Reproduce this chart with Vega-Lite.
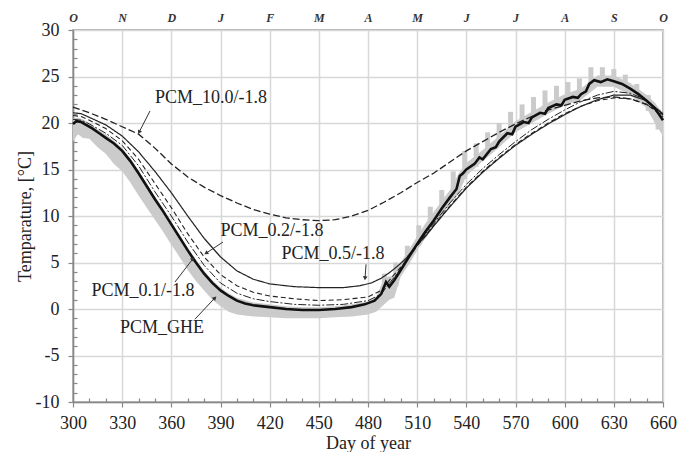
{
  "$schema": "https://vega.github.io/schema/vega-lite/v6.json",
  "width": 590,
  "height": 372,
  "autosize": {"type": "none"},
  "padding": {"left": 73, "top": 30, "right": 15, "bottom": 50},
  "background": "white",
  "config": {
    "view": {"stroke": "#999", "strokeWidth": 1.5},
    "font": "Liberation Serif"
  },
  "datasets": {
    "band": [
      {"day": 300, "lo": 18.0, "hi": 20.5}, {"day": 303, "lo": 18.8, "hi": 20.6}, {"day": 306, "lo": 18.4, "hi": 20.4},
      {"day": 310, "lo": 18.3, "hi": 20.0}, {"day": 315, "lo": 17.4, "hi": 19.3}, {"day": 320, "lo": 16.7, "hi": 18.8},
      {"day": 325, "lo": 15.6, "hi": 18.1}, {"day": 330, "lo": 14.8, "hi": 17.3}, {"day": 335, "lo": 13.6, "hi": 16.2},
      {"day": 340, "lo": 12.2, "hi": 14.9}, {"day": 345, "lo": 10.9, "hi": 13.5}, {"day": 350, "lo": 9.6, "hi": 12.1},
      {"day": 355, "lo": 8.3, "hi": 10.8}, {"day": 360, "lo": 6.9, "hi": 9.4}, {"day": 365, "lo": 5.6, "hi": 8.0},
      {"day": 370, "lo": 4.2, "hi": 6.6}, {"day": 375, "lo": 3.0, "hi": 5.3}, {"day": 380, "lo": 2.0, "hi": 4.1},
      {"day": 385, "lo": 1.0, "hi": 3.1}, {"day": 390, "lo": 0.3, "hi": 2.3}, {"day": 395, "lo": -0.3, "hi": 1.7},
      {"day": 400, "lo": -0.6, "hi": 1.2}, {"day": 410, "lo": -0.8, "hi": 0.7}, {"day": 420, "lo": -0.9, "hi": 0.5},
      {"day": 430, "lo": -1.0, "hi": 0.3}, {"day": 440, "lo": -1.0, "hi": 0.2}, {"day": 450, "lo": -1.0, "hi": 0.2},
      {"day": 460, "lo": -0.9, "hi": 0.3}, {"day": 470, "lo": -0.8, "hi": 0.5}, {"day": 480, "lo": -0.6, "hi": 0.8},
      {"day": 485, "lo": -0.3, "hi": 1.3}, {"day": 490, "lo": 0.5, "hi": 3.4}, {"day": 493, "lo": 1.0, "hi": 3.5},
      {"day": 496, "lo": 1.2, "hi": 3.6}, {"day": 500, "lo": 3.5, "hi": 5.0}, {"day": 505, "lo": 4.8, "hi": 6.4},
      {"day": 510, "lo": 6.3, "hi": 7.8}, {"day": 515, "lo": 7.6, "hi": 9.2}, {"day": 520, "lo": 8.8, "hi": 10.4},
      {"day": 525, "lo": 10.1, "hi": 11.6}, {"day": 530, "lo": 11.3, "hi": 12.8}, {"day": 535, "lo": 12.3, "hi": 14.5},
      {"day": 540, "lo": 14.3, "hi": 15.7}, {"day": 550, "lo": 15.9, "hi": 17.1}, {"day": 560, "lo": 17.4, "hi": 18.6},
      {"day": 570, "lo": 19.0, "hi": 20.2}, {"day": 580, "lo": 20.0, "hi": 21.2}, {"day": 590, "lo": 21.0, "hi": 22.2},
      {"day": 600, "lo": 21.9, "hi": 23.1}, {"day": 610, "lo": 22.5, "hi": 23.7}, {"day": 620, "lo": 23.9, "hi": 25.1},
      {"day": 630, "lo": 23.9, "hi": 25.1}, {"day": 640, "lo": 23.0, "hi": 24.3}, {"day": 650, "lo": 21.6, "hi": 23.0},
      {"day": 655, "lo": 20.0, "hi": 22.2}, {"day": 660, "lo": 18.6, "hi": 21.0}
    ],
    "spikes": [
      {"day": 490, "lo": 1.0, "hi": 3.8}, {"day": 497, "lo": 2.5, "hi": 5.0}, {"day": 504, "lo": 4.8, "hi": 6.8},
      {"day": 511, "lo": 6.8, "hi": 9.0}, {"day": 518, "lo": 8.6, "hi": 11.0}, {"day": 525, "lo": 10.3, "hi": 12.8},
      {"day": 532, "lo": 12.0, "hi": 14.8}, {"day": 539, "lo": 14.0, "hi": 17.0}, {"day": 546, "lo": 15.3, "hi": 17.8},
      {"day": 553, "lo": 16.6, "hi": 19.0}, {"day": 560, "lo": 17.6, "hi": 20.0}, {"day": 567, "lo": 18.8, "hi": 21.2},
      {"day": 574, "lo": 19.6, "hi": 22.0}, {"day": 581, "lo": 20.3, "hi": 22.8}, {"day": 588, "lo": 21.0, "hi": 23.5},
      {"day": 595, "lo": 21.6, "hi": 24.0}, {"day": 602, "lo": 22.2, "hi": 24.4}, {"day": 609, "lo": 22.7, "hi": 24.8},
      {"day": 616, "lo": 23.6, "hi": 26.0}, {"day": 623, "lo": 24.0, "hi": 26.0}, {"day": 630, "lo": 24.0, "hi": 25.8},
      {"day": 637, "lo": 23.5, "hi": 25.2}, {"day": 644, "lo": 22.6, "hi": 24.2}, {"day": 651, "lo": 21.3, "hi": 23.0},
      {"day": 657, "lo": 19.3, "hi": 21.5}
    ],
    "lines": [
      {"series": "PCM_10.0/-1.8", "day": 300, "t": 21.7}, {"series": "PCM_10.0/-1.8", "day": 310, "t": 21.1},
      {"series": "PCM_10.0/-1.8", "day": 320, "t": 20.4}, {"series": "PCM_10.0/-1.8", "day": 330, "t": 19.6},
      {"series": "PCM_10.0/-1.8", "day": 340, "t": 18.8}, {"series": "PCM_10.0/-1.8", "day": 350, "t": 17.3},
      {"series": "PCM_10.0/-1.8", "day": 360, "t": 15.6}, {"series": "PCM_10.0/-1.8", "day": 370, "t": 14.2},
      {"series": "PCM_10.0/-1.8", "day": 380, "t": 13.1}, {"series": "PCM_10.0/-1.8", "day": 390, "t": 12.2},
      {"series": "PCM_10.0/-1.8", "day": 400, "t": 11.4}, {"series": "PCM_10.0/-1.8", "day": 410, "t": 10.7},
      {"series": "PCM_10.0/-1.8", "day": 420, "t": 10.2}, {"series": "PCM_10.0/-1.8", "day": 430, "t": 9.8},
      {"series": "PCM_10.0/-1.8", "day": 440, "t": 9.6}, {"series": "PCM_10.0/-1.8", "day": 450, "t": 9.5},
      {"series": "PCM_10.0/-1.8", "day": 460, "t": 9.6}, {"series": "PCM_10.0/-1.8", "day": 470, "t": 10.0},
      {"series": "PCM_10.0/-1.8", "day": 480, "t": 10.6}, {"series": "PCM_10.0/-1.8", "day": 490, "t": 11.5},
      {"series": "PCM_10.0/-1.8", "day": 500, "t": 12.5}, {"series": "PCM_10.0/-1.8", "day": 510, "t": 13.6},
      {"series": "PCM_10.0/-1.8", "day": 520, "t": 14.6}, {"series": "PCM_10.0/-1.8", "day": 530, "t": 15.8},
      {"series": "PCM_10.0/-1.8", "day": 540, "t": 17.0}, {"series": "PCM_10.0/-1.8", "day": 550, "t": 18.0},
      {"series": "PCM_10.0/-1.8", "day": 560, "t": 19.0}, {"series": "PCM_10.0/-1.8", "day": 570, "t": 19.9},
      {"series": "PCM_10.0/-1.8", "day": 580, "t": 20.7}, {"series": "PCM_10.0/-1.8", "day": 590, "t": 21.4},
      {"series": "PCM_10.0/-1.8", "day": 600, "t": 21.9}, {"series": "PCM_10.0/-1.8", "day": 610, "t": 22.4},
      {"series": "PCM_10.0/-1.8", "day": 620, "t": 22.7}, {"series": "PCM_10.0/-1.8", "day": 630, "t": 22.8},
      {"series": "PCM_10.0/-1.8", "day": 640, "t": 22.6}, {"series": "PCM_10.0/-1.8", "day": 650, "t": 22.0},
      {"series": "PCM_10.0/-1.8", "day": 660, "t": 20.9},

      {"series": "PCM_0.5/-1.8", "day": 300, "t": 21.1}, {"series": "PCM_0.5/-1.8", "day": 305, "t": 21.0},
      {"series": "PCM_0.5/-1.8", "day": 310, "t": 20.6}, {"series": "PCM_0.5/-1.8", "day": 320, "t": 19.8},
      {"series": "PCM_0.5/-1.8", "day": 330, "t": 18.6}, {"series": "PCM_0.5/-1.8", "day": 340, "t": 16.9},
      {"series": "PCM_0.5/-1.8", "day": 350, "t": 14.8}, {"series": "PCM_0.5/-1.8", "day": 360, "t": 12.5},
      {"series": "PCM_0.5/-1.8", "day": 370, "t": 10.0}, {"series": "PCM_0.5/-1.8", "day": 380, "t": 7.6},
      {"series": "PCM_0.5/-1.8", "day": 390, "t": 5.6}, {"series": "PCM_0.5/-1.8", "day": 400, "t": 4.1},
      {"series": "PCM_0.5/-1.8", "day": 410, "t": 3.2}, {"series": "PCM_0.5/-1.8", "day": 420, "t": 2.7},
      {"series": "PCM_0.5/-1.8", "day": 435, "t": 2.4}, {"series": "PCM_0.5/-1.8", "day": 450, "t": 2.3},
      {"series": "PCM_0.5/-1.8", "day": 465, "t": 2.3}, {"series": "PCM_0.5/-1.8", "day": 475, "t": 2.5},
      {"series": "PCM_0.5/-1.8", "day": 482, "t": 2.8}, {"series": "PCM_0.5/-1.8", "day": 488, "t": 3.3},
      {"series": "PCM_0.5/-1.8", "day": 493, "t": 3.9}, {"series": "PCM_0.5/-1.8", "day": 498, "t": 4.6},
      {"series": "PCM_0.5/-1.8", "day": 503, "t": 5.4}, {"series": "PCM_0.5/-1.8", "day": 508, "t": 6.5},
      {"series": "PCM_0.5/-1.8", "day": 515, "t": 7.8}, {"series": "PCM_0.5/-1.8", "day": 520, "t": 8.9},
      {"series": "PCM_0.5/-1.8", "day": 530, "t": 11.0}, {"series": "PCM_0.5/-1.8", "day": 540, "t": 13.0},
      {"series": "PCM_0.5/-1.8", "day": 550, "t": 14.7}, {"series": "PCM_0.5/-1.8", "day": 560, "t": 16.2},
      {"series": "PCM_0.5/-1.8", "day": 570, "t": 17.6}, {"series": "PCM_0.5/-1.8", "day": 580, "t": 18.8},
      {"series": "PCM_0.5/-1.8", "day": 590, "t": 19.9}, {"series": "PCM_0.5/-1.8", "day": 600, "t": 20.9},
      {"series": "PCM_0.5/-1.8", "day": 610, "t": 21.8}, {"series": "PCM_0.5/-1.8", "day": 620, "t": 22.5},
      {"series": "PCM_0.5/-1.8", "day": 630, "t": 23.0}, {"series": "PCM_0.5/-1.8", "day": 640, "t": 23.0},
      {"series": "PCM_0.5/-1.8", "day": 650, "t": 22.4}, {"series": "PCM_0.5/-1.8", "day": 660, "t": 21.0},

      {"series": "PCM_0.2/-1.8", "day": 300, "t": 20.8}, {"series": "PCM_0.2/-1.8", "day": 305, "t": 20.7},
      {"series": "PCM_0.2/-1.8", "day": 310, "t": 20.3}, {"series": "PCM_0.2/-1.8", "day": 320, "t": 19.4},
      {"series": "PCM_0.2/-1.8", "day": 330, "t": 18.1}, {"series": "PCM_0.2/-1.8", "day": 340, "t": 16.1},
      {"series": "PCM_0.2/-1.8", "day": 350, "t": 13.5}, {"series": "PCM_0.2/-1.8", "day": 360, "t": 10.9},
      {"series": "PCM_0.2/-1.8", "day": 370, "t": 8.1}, {"series": "PCM_0.2/-1.8", "day": 380, "t": 5.6},
      {"series": "PCM_0.2/-1.8", "day": 390, "t": 3.7}, {"series": "PCM_0.2/-1.8", "day": 400, "t": 2.5},
      {"series": "PCM_0.2/-1.8", "day": 410, "t": 1.8}, {"series": "PCM_0.2/-1.8", "day": 420, "t": 1.4},
      {"series": "PCM_0.2/-1.8", "day": 435, "t": 1.1}, {"series": "PCM_0.2/-1.8", "day": 450, "t": 0.9},
      {"series": "PCM_0.2/-1.8", "day": 465, "t": 1.0}, {"series": "PCM_0.2/-1.8", "day": 480, "t": 1.3},
      {"series": "PCM_0.2/-1.8", "day": 488, "t": 2.0}, {"series": "PCM_0.2/-1.8", "day": 495, "t": 3.5},
      {"series": "PCM_0.2/-1.8", "day": 500, "t": 4.5}, {"series": "PCM_0.2/-1.8", "day": 505, "t": 5.6},
      {"series": "PCM_0.2/-1.8", "day": 510, "t": 6.8}, {"series": "PCM_0.2/-1.8", "day": 520, "t": 9.0},
      {"series": "PCM_0.2/-1.8", "day": 530, "t": 11.1}, {"series": "PCM_0.2/-1.8", "day": 540, "t": 13.1},
      {"series": "PCM_0.2/-1.8", "day": 550, "t": 14.8}, {"series": "PCM_0.2/-1.8", "day": 560, "t": 16.3},
      {"series": "PCM_0.2/-1.8", "day": 570, "t": 17.7}, {"series": "PCM_0.2/-1.8", "day": 580, "t": 18.9},
      {"series": "PCM_0.2/-1.8", "day": 590, "t": 20.0}, {"series": "PCM_0.2/-1.8", "day": 600, "t": 21.0},
      {"series": "PCM_0.2/-1.8", "day": 610, "t": 21.8}, {"series": "PCM_0.2/-1.8", "day": 620, "t": 22.4},
      {"series": "PCM_0.2/-1.8", "day": 630, "t": 22.7}, {"series": "PCM_0.2/-1.8", "day": 640, "t": 22.6},
      {"series": "PCM_0.2/-1.8", "day": 650, "t": 22.0}, {"series": "PCM_0.2/-1.8", "day": 660, "t": 20.7},

      {"series": "PCM_0.1/-1.8", "day": 300, "t": 20.4}, {"series": "PCM_0.1/-1.8", "day": 305, "t": 20.3},
      {"series": "PCM_0.1/-1.8", "day": 310, "t": 19.9}, {"series": "PCM_0.1/-1.8", "day": 320, "t": 18.9},
      {"series": "PCM_0.1/-1.8", "day": 330, "t": 17.6}, {"series": "PCM_0.1/-1.8", "day": 340, "t": 15.4},
      {"series": "PCM_0.1/-1.8", "day": 350, "t": 12.6}, {"series": "PCM_0.1/-1.8", "day": 360, "t": 10.0},
      {"series": "PCM_0.1/-1.8", "day": 370, "t": 7.2}, {"series": "PCM_0.1/-1.8", "day": 380, "t": 4.7},
      {"series": "PCM_0.1/-1.8", "day": 390, "t": 2.8}, {"series": "PCM_0.1/-1.8", "day": 400, "t": 1.7},
      {"series": "PCM_0.1/-1.8", "day": 410, "t": 1.1}, {"series": "PCM_0.1/-1.8", "day": 420, "t": 0.8},
      {"series": "PCM_0.1/-1.8", "day": 435, "t": 0.5}, {"series": "PCM_0.1/-1.8", "day": 450, "t": 0.4},
      {"series": "PCM_0.1/-1.8", "day": 465, "t": 0.5}, {"series": "PCM_0.1/-1.8", "day": 480, "t": 0.9},
      {"series": "PCM_0.1/-1.8", "day": 488, "t": 1.6}, {"series": "PCM_0.1/-1.8", "day": 495, "t": 3.2},
      {"series": "PCM_0.1/-1.8", "day": 500, "t": 4.3}, {"series": "PCM_0.1/-1.8", "day": 505, "t": 5.6},
      {"series": "PCM_0.1/-1.8", "day": 510, "t": 6.9}, {"series": "PCM_0.1/-1.8", "day": 520, "t": 9.2},
      {"series": "PCM_0.1/-1.8", "day": 530, "t": 11.4}, {"series": "PCM_0.1/-1.8", "day": 540, "t": 13.4},
      {"series": "PCM_0.1/-1.8", "day": 550, "t": 15.1}, {"series": "PCM_0.1/-1.8", "day": 560, "t": 16.6},
      {"series": "PCM_0.1/-1.8", "day": 570, "t": 18.0}, {"series": "PCM_0.1/-1.8", "day": 580, "t": 19.3},
      {"series": "PCM_0.1/-1.8", "day": 590, "t": 20.4}, {"series": "PCM_0.1/-1.8", "day": 600, "t": 21.4},
      {"series": "PCM_0.1/-1.8", "day": 610, "t": 22.3}, {"series": "PCM_0.1/-1.8", "day": 620, "t": 23.0},
      {"series": "PCM_0.1/-1.8", "day": 630, "t": 23.4}, {"series": "PCM_0.1/-1.8", "day": 640, "t": 23.2},
      {"series": "PCM_0.1/-1.8", "day": 650, "t": 22.5}, {"series": "PCM_0.1/-1.8", "day": 660, "t": 20.9}
    ],
    "ghe": [
      {"day": 300, "t": 19.9}, {"day": 302, "t": 20.2}, {"day": 305, "t": 20.1}, {"day": 308, "t": 19.8},
      {"day": 312, "t": 19.4}, {"day": 316, "t": 18.9}, {"day": 320, "t": 18.4}, {"day": 325, "t": 17.8},
      {"day": 330, "t": 17.0}, {"day": 335, "t": 15.9}, {"day": 340, "t": 14.6}, {"day": 345, "t": 13.2},
      {"day": 350, "t": 11.8}, {"day": 355, "t": 10.5}, {"day": 360, "t": 9.1}, {"day": 365, "t": 7.7},
      {"day": 370, "t": 6.3}, {"day": 375, "t": 5.0}, {"day": 380, "t": 3.8}, {"day": 385, "t": 2.8},
      {"day": 390, "t": 2.0}, {"day": 395, "t": 1.4}, {"day": 400, "t": 0.9}, {"day": 405, "t": 0.6},
      {"day": 410, "t": 0.4}, {"day": 420, "t": 0.2}, {"day": 430, "t": 0.0}, {"day": 440, "t": -0.1},
      {"day": 450, "t": -0.1}, {"day": 460, "t": 0.0}, {"day": 470, "t": 0.2}, {"day": 478, "t": 0.5},
      {"day": 484, "t": 0.9}, {"day": 488, "t": 1.6}, {"day": 491, "t": 2.9}, {"day": 493, "t": 2.4},
      {"day": 496, "t": 3.1}, {"day": 500, "t": 4.2}, {"day": 505, "t": 5.6}, {"day": 510, "t": 7.0},
      {"day": 515, "t": 8.3}, {"day": 520, "t": 9.5}, {"day": 525, "t": 10.8}, {"day": 530, "t": 12.0},
      {"day": 534, "t": 12.9}, {"day": 536, "t": 14.3}, {"day": 538, "t": 14.6}, {"day": 540, "t": 15.0},
      {"day": 545, "t": 15.6}, {"day": 548, "t": 16.3}, {"day": 550, "t": 16.1}, {"day": 555, "t": 17.2},
      {"day": 558, "t": 17.4}, {"day": 560, "t": 18.0}, {"day": 565, "t": 18.9}, {"day": 568, "t": 18.8},
      {"day": 570, "t": 19.6}, {"day": 575, "t": 20.1}, {"day": 578, "t": 20.0}, {"day": 580, "t": 20.6},
      {"day": 585, "t": 21.1}, {"day": 588, "t": 21.0}, {"day": 590, "t": 21.6}, {"day": 595, "t": 22.0},
      {"day": 598, "t": 21.9}, {"day": 600, "t": 22.5}, {"day": 605, "t": 22.8}, {"day": 608, "t": 22.7},
      {"day": 610, "t": 23.1}, {"day": 613, "t": 23.4}, {"day": 615, "t": 24.2}, {"day": 618, "t": 24.6},
      {"day": 622, "t": 24.4}, {"day": 626, "t": 24.7}, {"day": 630, "t": 24.5}, {"day": 635, "t": 24.2},
      {"day": 640, "t": 23.7}, {"day": 645, "t": 23.1}, {"day": 650, "t": 22.4}, {"day": 655, "t": 21.6},
      {"day": 660, "t": 20.3}
    ],
    "notes": [
      {"label": "PCM_10.0/-1.8", "tx": 384.2, "ty": 22.7, "x1": 347.0, "y1": 21.3, "x2": 340.3, "y2": 19.0},
      {"label": "PCM_0.2/-1.8", "tx": 421.4, "ty": 8.4, "x1": 391.5, "y1": 7.2, "x2": 381.2, "y2": 6.0},
      {"label": "PCM_0.5/-1.8", "tx": 458.6, "ty": 5.9, "x1": 478.8, "y1": 4.8, "x2": 478.2, "y2": 3.3},
      {"label": "PCM_0.1/-1.8", "tx": 342.7, "ty": 1.9, "x1": 362.2, "y1": 2.9, "x2": 373.2, "y2": 5.4},
      {"label": "PCM_GHE", "tx": 354.3, "ty": -2.0, "x1": 374.4, "y1": -1.1, "x2": 386.6, "y2": 1.2}
    ]
  },
  "resolve": {"axis": {"x": "independent", "y": "independent"}},
  "layer": [
    {
      "data": {"name": "band"},
      "mark": {"type": "area", "color": "#cbcbcb", "opacity": 1},
      "encoding": {
        "x": {
          "field": "day", "type": "quantitative",
          "scale": {"domain": [300, 660], "nice": false, "zero": false},
          "axis": {
            "orient": "bottom",
            "values": [300,310,320,330,340,350,360,370,380,390,400,410,420,430,440,450,460,470,480,490,500,510,520,530,540,550,560,570,580,590,600,610,620,630,640,650,660],
            "labelExpr": "datum.value % 30 === 0 ? datum.label : ''",
            "labelOverlap": false, "labelFlush": false,
            "grid": true,
            "gridColor": {"condition": {"test": "datum.value % 30 === 0", "value": "#d8d8d8"}, "value": "rgba(0,0,0,0)"},
            "gridWidth": 1.5,
            "tickSize": {"condition": {"test": "datum.value % 30 === 0", "value": 5}, "value": -4},
            "tickColor": "#888", "tickWidth": 1.2,
            "domainColor": "#888", "domainWidth": 1.5,
            "labelFont": "Liberation Serif", "labelFontSize": 18, "labelColor": "#222", "labelPadding": 7,
            "title": "Day of year", "titleFont": "Liberation Serif", "titleFontSize": 18,
            "titleFontWeight": "normal", "titleColor": "#222", "titlePadding": 2
          }
        },
        "y": {
          "field": "lo", "type": "quantitative",
          "scale": {"domain": [-10, 30], "nice": false, "zero": false},
          "axis": {
            "orient": "left",
            "values": [-10,-9,-8,-7,-6,-5,-4,-3,-2,-1,0,1,2,3,4,5,6,7,8,9,10,11,12,13,14,15,16,17,18,19,20,21,22,23,24,25,26,27,28,29,30],
            "labelExpr": "datum.value % 5 === 0 ? '' + datum.value : ''",
            "labelOverlap": false, "labelFlush": false,
            "grid": true,
            "gridColor": {"condition": {"test": "datum.value % 5 === 0", "value": "#d8d8d8"}, "value": "rgba(0,0,0,0)"},
            "gridWidth": 1.5,
            "tickSize": {"condition": {"test": "datum.value % 5 === 0", "value": 5}, "value": -4},
            "tickColor": "#888", "tickWidth": 1.2,
            "domainColor": "#888", "domainWidth": 1.5,
            "labelFont": "Liberation Serif", "labelFontSize": 18, "labelColor": "#222", "labelPadding": 9,
            "title": "Temparature, [°C]", "titleFont": "Liberation Serif", "titleFontSize": 18,
            "titleFontWeight": "normal", "titleColor": "#222", "titlePadding": 1
          }
        },
        "y2": {"field": "hi"}
      }
    },
    {
      "data": {"name": "spikes"},
      "mark": {"type": "rule", "color": "#cbcbcb", "strokeWidth": 5},
      "encoding": {
        "x": {"field": "day", "type": "quantitative", "axis": null},
        "y": {"field": "lo", "type": "quantitative", "axis": null},
        "y2": {"field": "hi"}
      }
    },
    {
      "data": {"name": "lines"},
      "mark": {"type": "line", "color": "#222"},
      "encoding": {
        "x": {"field": "day", "type": "quantitative", "axis": null},
        "y": {"field": "t", "type": "quantitative", "axis": null},
        "detail": {"field": "series"},
        "strokeDash": {
          "field": "series", "type": "nominal", "legend": null,
          "scale": {"domain": ["PCM_10.0/-1.8", "PCM_0.5/-1.8", "PCM_0.2/-1.8", "PCM_0.1/-1.8"],
                    "range": [[7, 3], [1, 0], [5, 3], [8, 2, 2, 2]]}
        },
        "strokeWidth": {
          "field": "series", "type": "nominal", "legend": null,
          "scale": {"domain": ["PCM_10.0/-1.8", "PCM_0.5/-1.8", "PCM_0.2/-1.8", "PCM_0.1/-1.8"],
                    "range": [1.3, 1.0, 1.2, 1.2]}
        }
      }
    },
    {
      "data": {"name": "ghe"},
      "mark": {"type": "line", "color": "#111", "strokeWidth": 2.6},
      "encoding": {
        "x": {
          "field": "day", "type": "quantitative",
          "axis": {
            "orient": "top",
            "values": [300,330,360,390,420,450,480,510,540,570,600,630,660],
            "labelExpr": "['O','N','D','J','F','M','A','M','J','J','A','S','O'][round((datum.value-300)/30)]",
            "labelOverlap": false, "labelFlush": false,
            "ticks": false, "domain": false, "grid": false,
            "labelFont": "Liberation Serif", "labelFontSize": 12, "labelFontStyle": "italic",
            "labelFontWeight": "bold", "labelColor": "#333", "labelPadding": 6,
            "title": null
          }
        },
        "y": {"field": "t", "type": "quantitative", "axis": null}
      }
    },
    {
      "data": {"name": "notes"},
      "mark": {"type": "rule", "color": "#333", "strokeWidth": 1},
      "encoding": {
        "x": {"field": "x1", "type": "quantitative", "axis": null},
        "y": {"field": "y1", "type": "quantitative", "axis": null},
        "x2": {"field": "x2"},
        "y2": {"field": "y2"}
      }
    },
    {
      "data": {"name": "notes"},
      "mark": {"type": "point", "shape": "triangle-up", "filled": true, "color": "#333", "size": 22, "opacity": 1},
      "encoding": {
        "x": {"field": "x2", "type": "quantitative", "axis": null},
        "y": {"field": "y2", "type": "quantitative", "axis": null},
        "angle": {
          "field": "label", "type": "nominal", "legend": null,
          "scale": {"type": "ordinal", "domain": ["PCM_10.0/-1.8", "PCM_0.2/-1.8", "PCM_0.5/-1.8", "PCM_0.1/-1.8", "PCM_GHE"],
                    "range": [208, 237, 184, 41, 44]}
        }
      }
    },
    {
      "data": {"name": "notes"},
      "mark": {"type": "text", "font": "Liberation Serif", "fontSize": 18, "color": "#222", "align": "center", "baseline": "middle"},
      "encoding": {
        "x": {"field": "tx", "type": "quantitative", "axis": null},
        "y": {"field": "ty", "type": "quantitative", "axis": null},
        "text": {"field": "label"}
      }
    }
  ]
}
